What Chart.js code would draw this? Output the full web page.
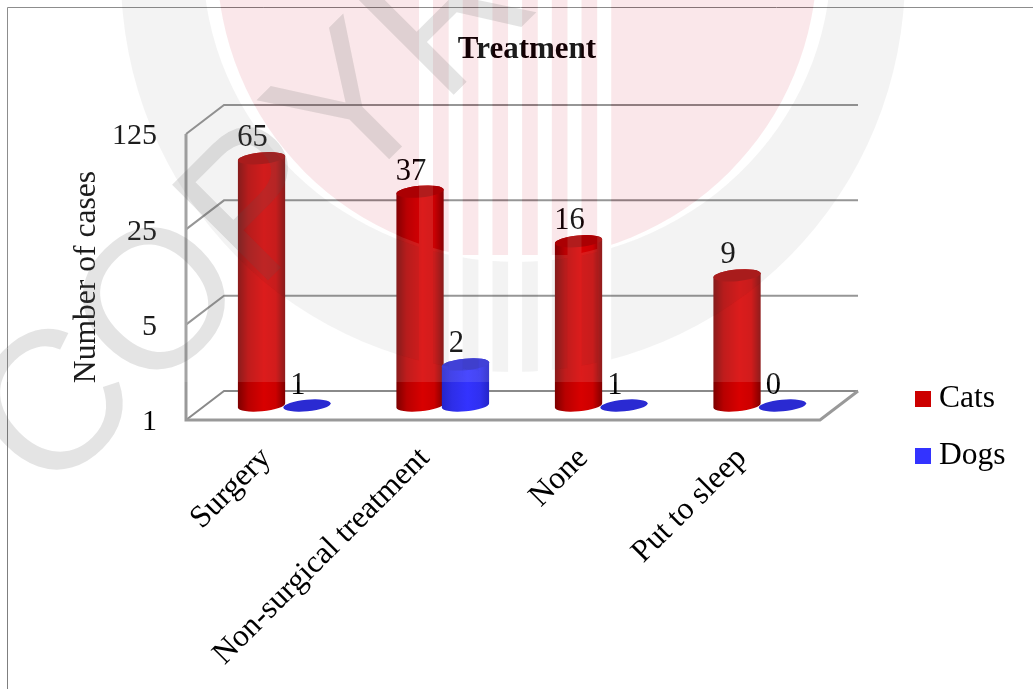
<!DOCTYPE html>
<html>
<head>
<meta charset="utf-8">
<title>Treatment</title>
<style>
  html, body { margin: 0; padding: 0; background: #fff; }
  canvas { display: block; }
</style>
<script src="https://cdn.jsdelivr.net/npm/chart.js@4/dist/chart.umd.min.js"></script>
</head>
<body>
<canvas id="chart" width="1033" height="689"></canvas>
<script>
const categories = ['Surgery', 'Non-surgical treatment', 'None', 'Put to sleep'];
const cats = [65, 37, 16, 9];
const dogs = [1, 2, 1, 0];
const yTicks = [1, 5, 25, 125];

const SERIF = '"Liberation Serif", "Times New Roman", serif';
const GRID = '#8a8a8a';
// Receding depth of the box the cylinders stand in; bars sit half way back.
const DEPTH_X = 38;
const DEPTH_Y = 29;
const TILT = -0.09;
const RY = 5.8;

const looks = [
  { stops: ['#7c0000', '#b80000', '#d80000', '#cc0000', '#800000'], cap: '#a80000' },
  { stops: ['#2424cc', '#2e2ee8', '#3333ff', '#3030f0', '#2424c8'], cap: '#2a2ad2' }
];

function drawCylinder(ctx, x, top, base, w, look) {
  const g = ctx.createLinearGradient(x - w / 2, 0, x + w / 2, 0);
  [0, 0.22, 0.55, 0.8, 1].forEach((p, i) => g.addColorStop(p, look.stops[i]));
  if (base - top > 0.5) {
    ctx.beginPath();
    ctx.ellipse(x, base, w / 2, RY, TILT, Math.PI, 0, true);
    ctx.ellipse(x, top, w / 2, RY, TILT, 0, Math.PI, true);
    ctx.closePath();
    ctx.fillStyle = g;
    ctx.fill();
  }
  ctx.beginPath();
  ctx.ellipse(x, top, w / 2, RY, TILT, 0, Math.PI * 2);
  ctx.fillStyle = look.cap;
  ctx.fill();
}

const box3d = {
  id: 'box3d',
  afterLayout(chart) {
    // Title and legend sit off the plot's own centre line.
    const t = chart.titleBlock;
    t.left = 227; t.right = 827;
    const l = chart.legend;
    l.left = 897.25; l.right = 1033; l.top = 357.75; l.bottom = 689;
  },
  beforeDraw(chart) {
    const c = chart.ctx;
    c.save();
    c.fillStyle = '#fff';
    c.fillRect(0, 0, chart.width, chart.height);
    c.strokeStyle = '#7f7f7f';
    c.lineWidth = 1;
    c.beginPath();
    c.moveTo(7.5, chart.height);
    c.lineTo(7.5, 7.5);
    c.lineTo(chart.width, 7.5);
    c.stroke();
    c.restore();
  },
  beforeDatasetsDraw(chart) {
    const c = chart.ctx;
    const { left, right, bottom } = chart.chartArea;
    const y = chart.scales.y;
    c.save();
    c.strokeStyle = GRID;
    c.lineWidth = 2;
    yTicks.forEach(v => {
      const py = y.getPixelForValue(v);
      c.beginPath();
      c.moveTo(left, py);
      c.lineTo(left + DEPTH_X, py - DEPTH_Y);
      c.lineTo(right + DEPTH_X, py - DEPTH_Y);
      c.stroke();
    });
    c.lineWidth = 3;
    c.strokeStyle = '#999';
    c.beginPath();
    c.moveTo(left, y.getPixelForValue(yTicks[yTicks.length - 1]));
    c.lineTo(left, bottom);
    c.lineTo(right, bottom);
    c.lineTo(right + DEPTH_X, bottom - DEPTH_Y);
    c.stroke();
    c.restore();
  },
  beforeDatasetDraw() {
    return false;
  },
  afterDatasetsDraw(chart) {
    const c = chart.ctx;
    const dx = DEPTH_X / 2, dy = DEPTH_Y / 2;
    c.save();
    chart.data.datasets.forEach((ds, i) => {
      chart.getDatasetMeta(i).data.forEach(el => {
        drawCylinder(c, el.x + dx, el.y - dy, el.base - dy, el.width, looks[i]);
      });
    });
    c.fillStyle = '#000';
    c.font = '30.5px ' + SERIF;
    c.textAlign = 'center';
    c.textBaseline = 'middle';
    chart.data.datasets.forEach((ds, i) => {
      chart.getDatasetMeta(i).data.forEach((el, j) => {
        c.fillText(String(ds.data[j]), el.x + dx - 9, el.y - dy - 20);
      });
    });
    c.restore();
  },
  afterDraw(chart) {
    // Translucent "COPYRIGHT" stamp laid across the finished chart.
    const off = document.createElement('canvas');
    off.width = chart.width;
    off.height = chart.height;
    const g = off.getContext('2d');
    const HAZE = 'rgba(255,255,255,0.11)';
    const stamp = (path, fill, rule) => {
      g.globalCompositeOperation = 'destination-out';
      g.fillStyle = '#000';
      g.beginPath(); path(); g.fill(rule || 'nonzero');
      g.globalCompositeOperation = 'source-over';
      g.fillStyle = fill;
      g.beginPath(); path(); g.fill(rule || 'nonzero');
    };
    g.fillStyle = HAZE;
    g.fillRect(0, 0, off.width, 382);

    stamp(() => {
      g.ellipse(513, -25, 392, 397, 0, 0, Math.PI * 2);
      g.ellipse(517, -40, 314, 302, 0, 0, Math.PI * 2);
    }, 'rgba(178,178,178,0.157)', 'evenodd');

    g.save();
    g.beginPath();
    g.rect(0, 0, off.width, 255);
    g.clip();
    stamp(() => g.arc(517, -40, 300, 0, Math.PI * 2), 'rgba(200,0,30,0.095)');
    g.restore();

    stamp(() => {
      for (let k = 0; k < 7; k++) g.rect(419 + k * 29.7, 0, 14, 376);
    }, HAZE);

    g.save();
    g.translate(47.5, 501);
    g.rotate(-Math.PI / 4);
    g.font = '197px "Liberation Sans", Arial, sans-serif';
    g.textAlign = 'left';
    g.textBaseline = 'alphabetic';
    g.fillStyle = 'rgba(90,90,90,0.16)';
    g.fillText('COPYRIGHT', 0, 0);
    g.restore();

    chart.ctx.drawImage(off, 0, 0);
  }
};

new Chart(document.getElementById('chart'), {
  type: 'bar',
  data: {
    labels: categories,
    datasets: [
      // The thick outline squares off the small legend swatch.
      { label: 'Cats', data: cats, backgroundColor: '#cc0000', borderColor: '#cc0000', borderWidth: 15.5,
        categoryPercentage: 0.5734, barPercentage: 1.044 },
      { label: 'Dogs', data: dogs, backgroundColor: '#3333ff', borderColor: '#3333ff', borderWidth: 15.5,
        categoryPercentage: 0.5734, barPercentage: 1.044 }
    ]
  },
  plugins: [box3d],
  options: {
    responsive: false,
    animation: false,
    devicePixelRatio: 1,
    layout: { padding: { left: 0, right: 213, top: 0, bottom: 0 } },
    plugins: {
      title: {
        display: true,
        text: 'Treatment',
        color: '#000',
        font: { family: SERIF, size: 31, weight: 'bold', lineHeight: 1.2 },
        padding: { top: 31.4, bottom: 65.4 }
      },
      legend: {
        position: 'chartArea',
        align: 'start',
        labels: {
          color: '#000',
          font: { family: SERIF, size: 31.5 },
          boxWidth: 0.5,
          boxHeight: 0.5,
          padding: 25.5
        }
      },
      tooltip: { enabled: false }
    },
    scales: {
      x: {
        grid: { display: false, drawTicks: false },
        border: { display: false },
        afterFit(s) { s.height = 269; },
        ticks: {
          autoSkip: false,
          minRotation: 45,
          maxRotation: 45,
          color: '#000',
          padding: 20,
          labelOffset: 1,
          font: { family: SERIF, size: 31.6 }
        }
      },
      y: {
        type: 'logarithmic',
        min: yTicks[0],
        max: yTicks[yTicks.length - 1],
        grid: { display: false, drawTicks: false },
        border: { display: false },
        afterFit(s) { s.width = 186; },
        afterBuildTicks(s) { s.ticks = yTicks.map(v => ({ value: v })); },
        title: {
          display: true,
          text: 'Number of cases',
          color: '#000',
          font: { family: SERIF, size: 31.6, lineHeight: 1.2 },
          padding: { top: 68, bottom: 0 }
        },
        ticks: {
          color: '#000',
          padding: 29,
          labelOffset: 2.5,
          font: { family: SERIF, size: 30 },
          callback: v => String(v)
        }
      }
    }
  }
});
</script>
</body>
</html>
